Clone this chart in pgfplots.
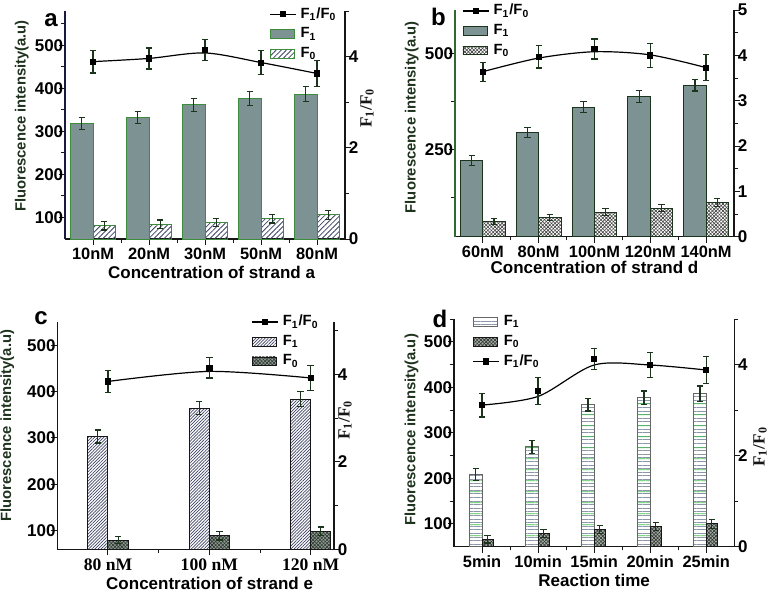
\documentclass[border=0pt]{standalone}
\usepackage{fontspec}
\setmainfont{Liberation Sans}
\newfontfamily\timesfont{Liberation Serif}
\usepackage{pgfplots}
\pgfplotsset{compat=1.18}
\usetikzlibrary{patterns,patterns.meta}

\definecolor{fone}{HTML}{7D9393}
\definecolor{axc}{HTML}{161616}
\definecolor{ebc}{HTML}{1C331C}
\definecolor{hatchc}{HTML}{3C4262}
\definecolor{gline}{HTML}{3C8C3C}
\definecolor{dgreen}{HTML}{2F6B2F}
\definecolor{labc}{HTML}{1E321E}
\definecolor{navy}{HTML}{1A1A40}
\definecolor{cfill}{HTML}{8A9E90}
\definecolor{dfill}{HTML}{A3B0A6}
\definecolor{hgray}{HTML}{8C96A8}
\definecolor{hgreen}{HTML}{3DBF4A}

\tikzset{
  xhatch/.style={pattern={Lines[angle=45,distance=1.25pt,line width=0.3pt]}, pattern color=#1,
    postaction={pattern={Lines[angle=-45,distance=1.25pt,line width=0.3pt]}, pattern color=#1}},
}

\pgfplotsset{
  base/.style={
    scale only axis,
    anchor=south west,
    xmin=0.5, xmax=5.5,
    axis line style={axc, line width=0.7pt},
    every tick/.style={axc, line width=0.5pt},
    major tick length=3pt,
    minor tick length=1.8pt,
    tick align=outside,
    /pgf/number format/assume math mode=true,
    xticklabel style={font=\bfseries\fontsize{8.2}{9}\selectfont, inner sep=1.5pt},
  },
  leftax/.style={base, axis y line*=left, axis x line*=bottom,
    xtick={1,...,5}, minor xtick={1.5,2.5,3.5,4.5},
    yticklabel style={font=\bfseries\fontsize{8.5}{9}\selectfont, inner sep=0.5pt, xshift=2.8pt},
    every axis x label/.style={at={(rel axis cs:0.5,0)}, anchor=center,
      font=\bfseries\fontsize{8.5}{9}\selectfont},
    every axis y label/.style={at={(rel axis cs:0,0.5)}, rotate=90, anchor=center,
      font=\bfseries\fontsize{7.4}{9}\selectfont, labc},
  },
  rightax/.style={base, axis y line*=right, axis x line=none,
    yticklabel pos=right,
    yticklabel style={font=\bfseries\fontsize{8.5}{9}\selectfont, inner sep=0.5pt, xshift=-1.8pt},
    every axis y label/.style={at={(rel axis cs:1,0.5)}, rotate=90, anchor=center,
      font=\timesfont\bfseries\fontsize{8.6}{10}\selectfont, axc},
    legend style={draw=none, fill=none, font=\bfseries\fontsize{7.4}{8}\selectfont,
      row sep=-0.8pt, inner sep=0pt},
    legend cell align=left},
  ebar/.style={/pgfplots/error bars/y dir=both, /pgfplots/error bars/y explicit,
    /pgfplots/error bars/error bar style={ebc, line width=0.6pt},
    /pgfplots/error bars/error mark options={rotate=90, mark size=1.6pt, ebc, line width=0.6pt}},
  lineleg/.style={legend image code/.code={
      \draw[##1] (0pt,0pt) -- (13pt,0pt);
      \draw[##1] plot coordinates {(6.5pt,0pt)};}},
  barleg/.style={legend image code/.code={
      \draw[##1] (0pt,-2.2pt) rectangle (12pt,2.2pt);}},
  ratioline/.style={black, line width=0.6pt, smooth, mark=none, forget plot},
  ratiomark/.style={only marks, mark=square*, mark size=1.3pt, black, ebar, forget plot},
}

\begin{document}
\begin{tikzpicture}
\useasboundingbox (0pt,0pt) rectangle (383.5pt,295.5pt);

% ---------------- panel a ----------------
\begin{axis}[leftax, at={(32.5pt,176pt)}, width=140pt, height=114pt,
  y axis line style={navy},
  ymin=50, ymax=580, ytick={100,200,300,400,500}, minor ytick={150,250,350,450,550},
  xticklabels={10nM,20nM,30nM,50nM,80nM},
  xlabel={Concentration of strand a}, ylabel={Fluorescence intensity(a.u)},
  xlabel style={yshift=-16.8pt, xshift=3.3pt}, ylabel style={yshift=21.6pt, xshift=4.5pt}]
\addplot[ybar, bar width=0.4, fill=fone, draw=gline, line width=0.5pt, ebar]
  coordinates {(0.8,318) +- (0,14) (1.8,333) +- (0,14) (2.8,362) +- (0,15) (3.8,376) +- (0,16) (4.8,387) +- (0,17)};
\addplot[ybar, bar width=0.4, draw=gline, line width=0.5pt,
  pattern={Lines[angle=45,distance=1.8pt,line width=0.4pt]}, pattern color=hatchc, ebar]
  coordinates {(1.2,81) +- (0,10) (2.2,84) +- (0,10) (3.2,88) +- (0,9) (4.2,97) +- (0,10) (5.2,106) +- (0,11)};
\end{axis}
\begin{axis}[rightax, at={(32.5pt,176pt)}, width=140pt, height=114pt,
  ymin=0, ymax=5, ytick={0,2,4}, minor ytick={1,3,5},
  ylabel={F\textsubscript{1}/F\textsubscript{0}}, ylabel style={yshift=-11pt, xshift=8.5pt},
  legend style={at={(0.985,1.035)}, anchor=north east}]
\addplot[ratioline] coordinates {(1,3.89) (2,3.96) (3,4.08) (4,3.87) (5,3.63)};
\addplot[ratiomark] coordinates {(1,3.89) +- (0,0.25) (2,3.96) +- (0,0.23) (3,4.15) +- (0,0.23) (4,3.87) +- (0,0.27) (5,3.63) +- (0,0.28)};
\addlegendimage{lineleg, black, line width=0.6pt, mark=square*, mark size=1.3pt}
\addlegendentry{F\textsubscript{1}/F\textsubscript{0}}
\addlegendimage{barleg, fill=fone, draw=gline}
\addlegendentry{F\textsubscript{1}}
\addlegendimage{barleg, draw=gline, pattern={Lines[angle=45,distance=1.8pt,line width=0.4pt]}, pattern color=hatchc}
\addlegendentry{F\textsubscript{0}}
\end{axis}

% ---------------- panel b ----------------
\begin{axis}[leftax, at={(227.5pt,177.15pt)}, width=139.5pt, height=113.35pt,
  y axis line style={dgreen},
  ymin=22, ymax=615, ytick={250,500}, minor ytick={125,375},
  xticklabels={60nM,80nM,100nM,120nM,140nM},
  xlabel={Concentration of strand d}, ylabel={Fluorescence intensity(a.u)},
  xlabel style={yshift=-15.3pt}, ylabel style={yshift=21.6pt, xshift=3pt}]
\addplot[ybar, bar width=0.4, fill=fone, draw=ebc, line width=0.5pt, ebar]
  coordinates {(0.8,222) +- (0,13) (1.8,295) +- (0,13) (2.8,361) +- (0,14) (3.8,389) +- (0,15) (4.8,418) +- (0,15)};
\addplot[ybar, bar width=0.4, draw=ebc, line width=0.5pt, xhatch=black!75, ebar]
  coordinates {(1.2,61) +- (0,8) (2.2,73) +- (0,8) (3.2,86) +- (0,9) (4.2,97) +- (0,9) (5.2,111) +- (0,10)};
\end{axis}
\begin{axis}[rightax, at={(227.5pt,177.15pt)}, width=139.5pt, height=113.35pt,
  ymin=0, ymax=5, ytick={0,1,2,3,4,5}, minor ytick={0.5,1.5,2.5,3.5,4.5},
  legend style={at={(0.025,1.045)}, anchor=north west}]
\addplot[ratioline] coordinates {(1,3.64) (2,3.94) (3,4.08) (4,4.01) (5,3.73)};
\addplot[ratiomark] coordinates {(1,3.64) +- (0,0.21) (2,3.97) +- (0,0.25) (3,4.14) +- (0,0.22) (4,4.0) +- (0,0.26) (5,3.73) +- (0,0.28)};
\addlegendimage{lineleg, black, line width=0.6pt, mark=square*, mark size=1.3pt}
\addlegendentry{F\textsubscript{1}/F\textsubscript{0}}
\addlegendimage{barleg, fill=fone, draw=ebc}
\addlegendentry{F\textsubscript{1}}
\addlegendimage{barleg, draw=ebc, xhatch=black!75}
\addlegendentry{F\textsubscript{0}}
\end{axis}

% ---------------- panel c ----------------
\begin{axis}[leftax, at={(28.65pt,20.85pt)}, width=138.35pt, height=113.65pt,
  xmin=0.5, xmax=3.23, xtick={1,2,3}, minor xtick={1.5,2.5},
  xticklabel style={font=\timesfont\bfseries\fontsize{8.8}{9}\selectfont},
  ymin=60, ymax=550, ytick={100,200,300,400,500},
  xticklabels={80 nM,100 nM,120 nM},
  xlabel={Concentration of strand e}, ylabel={Fluorescence intensity(a.u)},
  xlabel style={yshift=-17pt, xshift=7pt}, ylabel style={yshift=25pt, xshift=5pt}]
\addplot[ybar, bar width=0.2, draw=axc, line width=0.5pt,
  pattern={Lines[angle=45,distance=1.1pt,line width=0.35pt]}, pattern color=hatchc, ebar]
  coordinates {(0.9,303) +- (0,14) (1.9,364) +- (0,14) (2.9,384) +- (0,17)};
\addplot[ybar, bar width=0.2, draw=axc, line width=0.5pt, fill=cfill,
  postaction={xhatch=black!80}, ebar]
  coordinates {(1.1,80) +- (0,8) (2.1,89) +- (0,9) (3.1,99) +- (0,9)};
\end{axis}
\begin{axis}[rightax, at={(28.65pt,20.85pt)}, width=138.35pt, height=113.65pt,
  xmin=0.5, xmax=3.23,
  ymin=0, ymax=5.2, ytick={0,2,4}, minor ytick={1,3,5},
  ylabel={F\textsubscript{1}/F\textsubscript{0}}, ylabel style={yshift=-5.5pt, xshift=7.8pt},
  legend style={at={(0.96,1.05)}, anchor=north east}]
\addplot[ratioline] coordinates {(1,3.84) (2,4.07) (3,3.92)};
\addplot[ratiomark] coordinates {(1,3.84) +- (0,0.245) (2,4.15) +- (0,0.23) (3,3.92) +- (0,0.29)};
\addlegendimage{lineleg, black, line width=0.6pt, mark=square*, mark size=1.3pt}
\addlegendentry{F\textsubscript{1}/F\textsubscript{0}}
\addlegendimage{barleg, draw=axc, pattern={Lines[angle=45,distance=1.1pt,line width=0.35pt]}, pattern color=hatchc}
\addlegendentry{F\textsubscript{1}}
\addlegendimage{barleg, draw=axc, fill=cfill, postaction={xhatch=black!80}}
\addlegendentry{F\textsubscript{0}}
\end{axis}

% ---------------- panel d ----------------
\begin{axis}[leftax, at={(227pt,22.15pt)}, width=140.15pt, height=113.85pt,
  ymin=50, ymax=550, ytick={100,200,300,400,500}, minor ytick={150,250,350,450,550},
  xticklabels={5min,10min,15min,20min,25min},
  xlabel={Reaction time}, ylabel={Fluorescence intensity(a.u)},
  xlabel style={yshift=-16.9pt}, ylabel style={yshift=21.2pt, xshift=1.5pt}]
\addplot[ybar, bar width=0.22, draw=black!60, line width=0.5pt,
  pattern={Lines[angle=0,distance=1.8pt,line width=0.4pt]}, pattern color=hgray,
  postaction={pattern={Lines[angle=0,distance=5.4pt,line width=0.4pt,yshift=0.9pt]}, pattern color=hgreen}, ebar]
  coordinates {(0.89,208) +- (0,13) (1.89,269) +- (0,14) (2.89,362) +- (0,14) (3.89,377) +- (0,15) (4.89,386) +- (0,17)};
\addplot[ybar, bar width=0.2, draw=axc, line width=0.5pt, fill=dfill,
  postaction={xhatch=black!80}, ebar]
  coordinates {(1.1,66) +- (0,8) (2.1,79) +- (0,8) (3.1,88) +- (0,9) (4.1,95) +- (0,9) (5.1,100) +- (0,10)};
\end{axis}
\begin{axis}[rightax, at={(227pt,22.15pt)}, width=140.15pt, height=113.85pt,
  ymin=0, ymax=5, ytick={0,2,4}, minor ytick={1,3,5},
  ylabel={F\textsubscript{1}/F\textsubscript{0}}, ylabel style={yshift=-12.9pt, xshift=-7pt},
  legend style={at={(0.065,1.035)}, anchor=north west}]
\addplot[ratioline] coordinates {(1,3.11) (2,3.30) (3,3.99) (4,3.99) (5,3.88)};
\addplot[ratiomark] coordinates {(1,3.11) +- (0,0.26) (2,3.42) +- (0,0.3) (3,4.13) +- (0,0.23) (4,3.99) +- (0,0.27) (5,3.88) +- (0,0.3)};
\addlegendimage{barleg, draw=black!60, pattern={Lines[angle=0,distance=1.8pt,line width=0.4pt]}, pattern color=hgray}
\addlegendentry{F\textsubscript{1}}
\addlegendimage{barleg, draw=axc, fill=dfill, postaction={xhatch=black!80}}
\addlegendentry{F\textsubscript{0}}
\addlegendimage{lineleg, black, line width=0.6pt, mark=square*, mark size=1.3pt}
\addlegendentry{F\textsubscript{1}/F\textsubscript{0}}
\end{axis}

% panel letters
\node[font=\bfseries\fontsize{12}{12}\selectfont] at (25.5pt,285.5pt) {a};
\node[font=\bfseries\fontsize{12}{12}\selectfont] at (219.2pt,287pt) {b};
\node[font=\bfseries\fontsize{12}{12}\selectfont] at (20.5pt,136.5pt) {c};
\node[font=\bfseries\fontsize{12}{12}\selectfont] at (220pt,136pt) {d};
\end{tikzpicture}
\end{document}
